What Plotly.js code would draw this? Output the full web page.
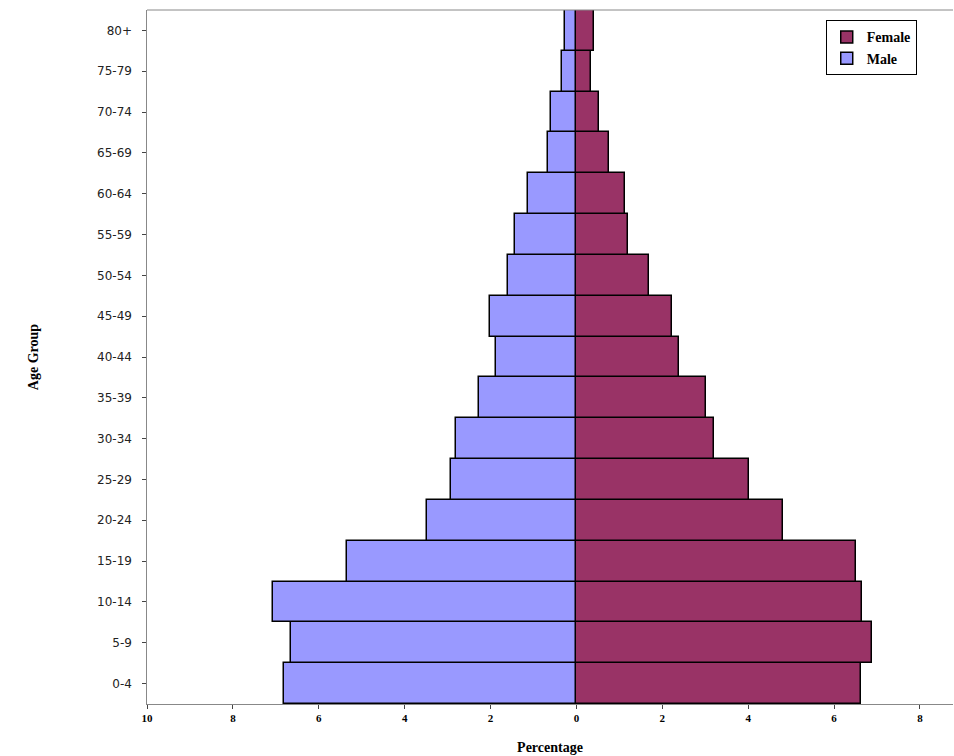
<!DOCTYPE html>
<html>
<head>
<script src="https://cdn.plot.ly/plotly-3.0.1.min.js"></script>
<style>body{margin:0;background:#fff}</style>
</head>
<body>
<div id="chart" style="width:954px;height:756px"></div>
<script>
var ageGroups = ["0-4","5-9","10-14","15-19","20-24","25-29","30-34","35-39","40-44","45-49","50-54","55-59","60-64","65-69","70-74","75-79","80+"];
var male = [6.81,6.65,7.07,5.35,3.47,2.93,2.81,2.28,1.88,2.02,1.60,1.44,1.12,0.67,0.60,0.33,0.26];
var female = [6.63,6.88,6.65,6.51,4.81,4.02,3.21,3.02,2.40,2.23,1.70,1.19,1.12,0.77,0.53,0.33,0.42];
var tickVals = [-10,-8,-6,-4,-2,0,2,4,6,8];
var tickText = tickVals.map(function (v) { return String(Math.abs(v)); });

var data = [
  {
    type: "bar", orientation: "h", name: "Female",
    y: ageGroups, x: female,
    marker: { color: "#993366", line: { color: "#000", width: 1.5 } }
  },
  {
    type: "bar", orientation: "h", name: "Male",
    y: ageGroups, x: male.map(function (v) { return -v; }),
    marker: { color: "#9999ff", line: { color: "#000", width: 1.5 } }
  }
];

var layout = {
  width: 954, height: 756,
  margin: { l: 147, r: 1, t: 10, b: 52 },
  barmode: "overlay", bargap: 0,
  paper_bgcolor: "#fff", plot_bgcolor: "#fff",
  font: { family: "Liberation Serif", color: "#000" },
  showlegend: true,
  legend: {
    x: 0.955, y: 0.985, xanchor: "right", yanchor: "top",
    bordercolor: "#000", borderwidth: 1, traceorder: "normal",
    font: { family: "Liberation Serif", size: 14, color: "#000", weight: "bold" }
  },
  xaxis: {
    range: [-10, 8.77], tickvals: tickVals, ticktext: tickText,
    ticks: "outside", ticklen: 4, showgrid: false, zeroline: false,
    showline: true, linecolor: "#888", mirror: false,
    tickfont: { family: "Liberation Serif", size: 11, weight: "bold" },
    title: { text: "Percentage", standoff: 18, font: { family: "Liberation Serif", size: 14, weight: "bold" } }
  },
  yaxis: {
    showgrid: false, zeroline: false, ticks: "outside", ticklen: 4,
    showline: true, linecolor: "#888", ticksuffix: "  ",
    tickfont: { family: "DejaVu Sans", size: 12, color: "#222" },
    title: { text: "Age Group", standoff: 55, font: { family: "Liberation Serif", size: 14, weight: "bold" } }
  },
  shapes: [{ type: "line", xref: "paper", yref: "paper", x0: 0, x1: 1, y0: 1, y1: 1, line: { color: "#888", width: 1 } }]
};
Plotly.newPlot("chart", data, layout, { displayModeBar: false });
</script>
</body>
</html>
